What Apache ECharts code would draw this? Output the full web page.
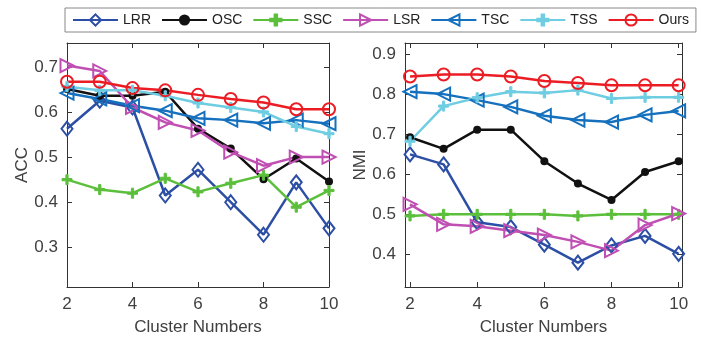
<!DOCTYPE html>
<html>
<head>
<meta charset="utf-8">
<script src="https://cdn.jsdelivr.net/npm/echarts@6/dist/echarts.min.js"></script>
<style>
body { margin: 0; background: #fff; }
#chart { width: 704px; height: 341px; }
</style>
</head>
<body>
<div id="chart"></div>
<script>
let clusters = [2, 3, 4, 5, 6, 7, 8, 9, 10];
let methods = ['LRR', 'OSC', 'SSC', 'LSR', 'TSC', 'TSS', 'Ours'];

// ACC (left plot)
let acc_LRR  = [0.563, 0.625, 0.610, 0.415, 0.472, 0.400, 0.328, 0.444, 0.342];
let acc_OSC  = [0.651, 0.636, 0.636, 0.645, 0.563, 0.519, 0.451, 0.497, 0.446];
let acc_SSC  = [0.450, 0.428, 0.420, 0.453, 0.423, 0.442, 0.460, 0.389, 0.426];
let acc_LSR  = [0.703, 0.691, 0.610, 0.577, 0.559, 0.511, 0.481, 0.500, 0.500];
let acc_TSC  = [0.642, 0.629, 0.614, 0.603, 0.586, 0.582, 0.575, 0.582, 0.574];
let acc_TSS  = [0.656, 0.648, 0.648, 0.636, 0.620, 0.610, 0.600, 0.568, 0.552];
let acc_Ours = [0.667, 0.667, 0.653, 0.648, 0.638, 0.629, 0.621, 0.606, 0.606];

// NMI (right plot)
let nmi_LRR  = [0.650, 0.625, 0.480, 0.468, 0.424, 0.379, 0.422, 0.446, 0.401];
let nmi_OSC  = [0.693, 0.664, 0.712, 0.712, 0.633, 0.577, 0.536, 0.606, 0.633];
let nmi_SSC  = [0.496, 0.500, 0.500, 0.500, 0.500, 0.496, 0.500, 0.500, 0.500];
let nmi_LSR  = [0.525, 0.475, 0.470, 0.459, 0.448, 0.431, 0.409, 0.473, 0.502];
let nmi_TSC  = [0.807, 0.801, 0.786, 0.769, 0.747, 0.736, 0.731, 0.749, 0.759];
let nmi_TSS  = [0.683, 0.771, 0.792, 0.807, 0.804, 0.811, 0.790, 0.793, 0.793];
let nmi_Ours = [0.845, 0.850, 0.850, 0.845, 0.834, 0.829, 0.823, 0.823, 0.823];

let x_ticks = [2, 4, 6, 8, 10];
let acc_ticks = [0.3, 0.4, 0.5, 0.6, 0.7];
let nmi_ticks = [0.4, 0.5, 0.6, 0.7, 0.8, 0.9];

let acc_data = [acc_LRR, acc_OSC, acc_SSC, acc_LSR, acc_TSC, acc_TSS, acc_Ours];
let nmi_data = [nmi_LRR, nmi_OSC, nmi_SSC, nmi_LSR, nmi_TSC, nmi_TSS, nmi_Ours];

// marker looks, hollow ones get a transparent fill like matlab
let plus = 'path://M-1,-0.22H-0.22V-1H0.22V-0.22H1V0.22H0.22V1H-0.22V0.22H-1Z';
let styles = {
    LRR:  { color: '#2c4fa5', symbol: 'diamond', size: [11, 14], rotate: 0, hollow: true, border: 2 },
    OSC:  { color: '#111111', symbol: 'circle', size: 8, rotate: 0, hollow: false, border: 0 },
    SSC:  { color: '#5cbf3c', symbol: plus, size: 10, rotate: 0, hollow: false, border: 1 },
    LSR:  { color: '#c04fb3', symbol: 'triangle', size: 13, rotate: -90, hollow: true, border: 2 },
    TSC:  { color: '#1570bd', symbol: 'triangle', size: 13, rotate: 90, hollow: true, border: 2 },
    TSS:  { color: '#6fcde2', symbol: plus, size: 10, rotate: 0, hollow: false, border: 1 },
    Ours: { color: '#ec1c24', symbol: 'circle', size: 12, rotate: 0, hollow: true, border: 2 }
};

let font = 'Liberation Sans, Arial, sans-serif';
let axisColor = '#333';

function make_series(values, axisIdx)
{
    let out = [];
    methods.forEach((name, i) => {
        let s = styles[name];
        out.push({
            name: name,
            type: 'line',
            xAxisIndex: axisIdx,
            yAxisIndex: axisIdx,
            data: clusters.map((c, j) => [c, values[i][j]]),
            symbol: s.symbol,
            symbolSize: s.size,
            symbolRotate: s.rotate,
            showAllSymbol: true,
            lineStyle: { width: 2.5, color: s.color },
            itemStyle: {
                color: s.hollow ? 'rgba(255,255,255,0)' : s.color,
                borderColor: s.color,
                borderWidth: s.border
            },
            emphasis: { disabled: true },
            animation: false
        });
    });
    return out;
}

function x_axis(grid, min, max, top)
{
    return {
        type: 'value', gridIndex: grid, min: min, max: max,
        position: top ? 'top' : 'bottom',
        name: top ? '' : 'Cluster Numbers',
        nameLocation: 'middle', nameGap: 32,
        nameTextStyle: { fontSize: 17, color: '#404040', fontFamily: font },
        axisLine: { show: true, onZero: false, lineStyle: { color: axisColor, width: 1 } },
        axisTick: { show: true, inside: true, length: 5, customValues: x_ticks, lineStyle: { color: axisColor } },
        axisLabel: { show: !top, customValues: x_ticks, fontSize: 17, color: '#404040', fontFamily: font, margin: 9 },
        splitLine: { show: false }
    };
}

function y_axis(grid, min, max, ticks, label, right)
{
    return {
        type: 'value', gridIndex: grid, min: min, max: max,
        position: right ? 'right' : 'left',
        name: right ? '' : label,
        nameLocation: 'middle', nameGap: 35,
        nameTextStyle: { fontSize: 17, color: '#404040', fontFamily: font },
        axisLine: { show: true, onZero: false, lineStyle: { color: axisColor, width: 1 } },
        axisTick: { show: true, inside: true, length: 5, customValues: ticks, lineStyle: { color: axisColor } },
        axisLabel: { show: !right, customValues: ticks, fontSize: 17, color: '#404040', fontFamily: font, margin: 9 },
        splitLine: { show: false }
    };
}

var myChart = echarts.init(document.getElementById('chart'));

let option = {
    backgroundColor: '#fff',
    animation: false,
    legend: {
        data: methods,
        left: 65, top: 8,
        padding: [5, 7, 5, 7],
        itemGap: 10,
        itemWidth: 45,
        itemHeight: 14,
        borderColor: '#888',
        borderWidth: 1,
        textStyle: { fontSize: 14, color: '#222', fontFamily: font }
    },
    grid: [
        { left: 67, top: 43, width: 262, height: 246 },
        { left: 405, top: 43, width: 277, height: 245 }
    ],
    xAxis: [
        x_axis(0, 2, 10, false),
        x_axis(1, 1.85, 10.1, false),
        x_axis(0, 2, 10, true),
        x_axis(1, 1.85, 10.1, true)
    ],
    yAxis: [
        y_axis(0, 0.212, 0.753, acc_ticks, 'ACC', false),
        y_axis(1, 0.318, 0.929, nmi_ticks, 'NMI', false),
        y_axis(0, 0.212, 0.753, acc_ticks, 'ACC', true),
        y_axis(1, 0.318, 0.929, nmi_ticks, 'NMI', true)
    ],
    series: make_series(acc_data, 0).concat(make_series(nmi_data, 1))
};

myChart.setOption(option);
</script>
</body>
</html>
